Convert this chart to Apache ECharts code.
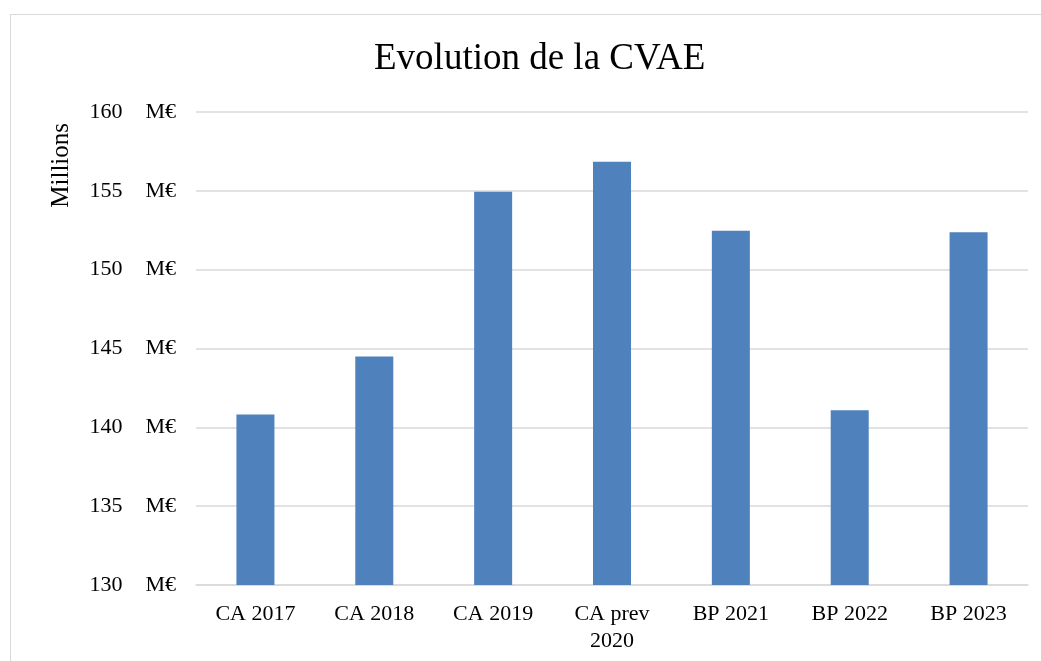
<!DOCTYPE html>
<html>
<head>
<meta charset="utf-8">
<script src="https://cdn.jsdelivr.net/npm/echarts@6/dist/echarts.min.js"></script>
<style>
  html, body { margin: 0; padding: 0; background: #fff; }
  #box { position: absolute; left: 10px; top: 14px; width: 1040px; height: 660px; border: 1px solid #d9d9d9; box-sizing: border-box; }
  #main { position: absolute; left: 0; top: 0; width: 1041px; height: 661px; }
</style>
</head>
<body>
<div id="box"></div>
<div id="main"></div>
<script>
// categories and values (millions of euros)
var categories = ['CA 2017', 'CA 2018', 'CA 2019', 'CA prev\n2020', 'BP 2021', 'BP 2022', 'BP 2023'];
var cvae = [140.82, 144.5, 154.94, 156.84, 152.47, 141.08, 152.37];

var font = '"Liberation Serif", "Times New Roman", serif';

var myChart = echarts.init(document.getElementById('main'));

var option = {
  animation: false,
  title: {
    text: 'Evolution de la CVAE',
    left: 369,
    top: 36,
    textStyle: { fontFamily: font, fontSize: 37, fontWeight: 'normal', color: '#000' }
  },
  grid: { left: 196, right: 13, top: 112, bottom: 76 },
  xAxis: {
    type: 'category',
    data: categories,
    axisTick: { show: false },
    axisLine: { lineStyle: { color: '#d9d9d9', width: 1.5 } },
    axisLabel: { fontFamily: font, fontSize: 22, color: '#000', margin: 16, lineHeight: 27, interval: 0 }
  },
  yAxis: {
    type: 'value',
    min: 130,
    max: 160,
    interval: 5,
    axisLine: { show: false },
    axisTick: { show: false },
    splitLine: { lineStyle: { color: '#d9d9d9', width: 1.5 } },
    axisLabel: {
      margin: 20,
      formatter: function (v) { return '{v|' + v + '}{u|M€}'; },
      rich: {
        v: { fontFamily: font, fontSize: 22, color: '#000' },
        u: { fontFamily: font, fontSize: 22, color: '#000', padding: [0, 0, 0, 23] }
      }
    }
  },
  graphic: [{
    type: 'text',
    left: 49,
    top: 123,
    rotation: Math.PI / 2,
    style: { text: 'Millions', font: '25px ' + font, fill: '#000' }
  }],
  series: [{
    type: 'bar',
    data: cvae,
    barWidth: 38,
    itemStyle: { color: '#4f81bd' }
  }]
};

myChart.setOption(option);
</script>
</body>
</html>
